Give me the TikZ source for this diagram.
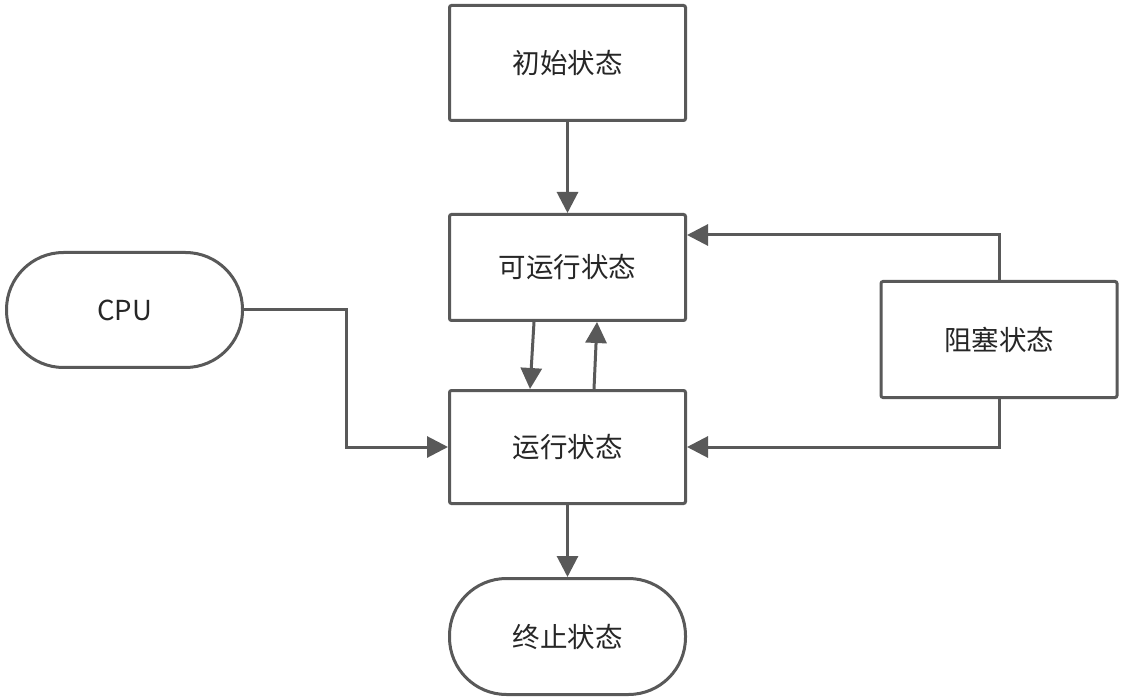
\documentclass[tikz,border=0pt]{standalone}
\usepackage{fontspec}
\setmainfont{Noto Sans CJK SC}
\usetikzlibrary{arrows.meta,calc,positioning}
\definecolor{lc}{HTML}{595959}
\definecolor{tc}{HTML}{262626}
\tikzset{
  box/.style={draw=lc, line width=3pt, fill=white, rounded corners=2pt, minimum width=236pt, text=tc, font=\fontsize{27.5}{32}\selectfont},
  term/.style={box, rounded corners=57pt},
  conn/.style={draw=lc, line width=3pt, -{Triangle[length=21pt,width=21pt]}}
}
\begin{document}
\begin{tikzpicture}[x=1pt,y=-1pt]
\useasboundingbox (0,0) rectangle (1124,700);
\node[box, minimum height=115pt] (init) at (567.5,63) {初始状态};
\node[box, minimum height=106pt] (ready) at (567.5,267.5) {可运行状态};
\node[box, minimum height=113pt] (run) at (567.5,447) {运行状态};
\node[term, minimum height=116pt] (end) at (567.5,636.5) {终止状态};
\node[term, minimum height=115pt] (cpu) at (124.5,310) {CPU};
\node[box, minimum height=116pt] (block) at (999,339.5) {阻塞状态};
\draw[conn] (init) -- (ready);
\draw[conn] ($(ready.south west)+(86,0)$) -- ($(run.north west)+(82,0)$);
\draw[conn] ($(run.north west)+(146,0)$) -- ($(ready.south west)+(149,0)$);
\draw[conn] (block.north) |- ($(ready.north east)+(0,22)$);
\draw[conn] (block.south) |- (run.east);
\draw[conn] (cpu.east) -| (346,447) -- (run.west);
\draw[conn] (run) -- (end);
\end{tikzpicture}
\end{document}
